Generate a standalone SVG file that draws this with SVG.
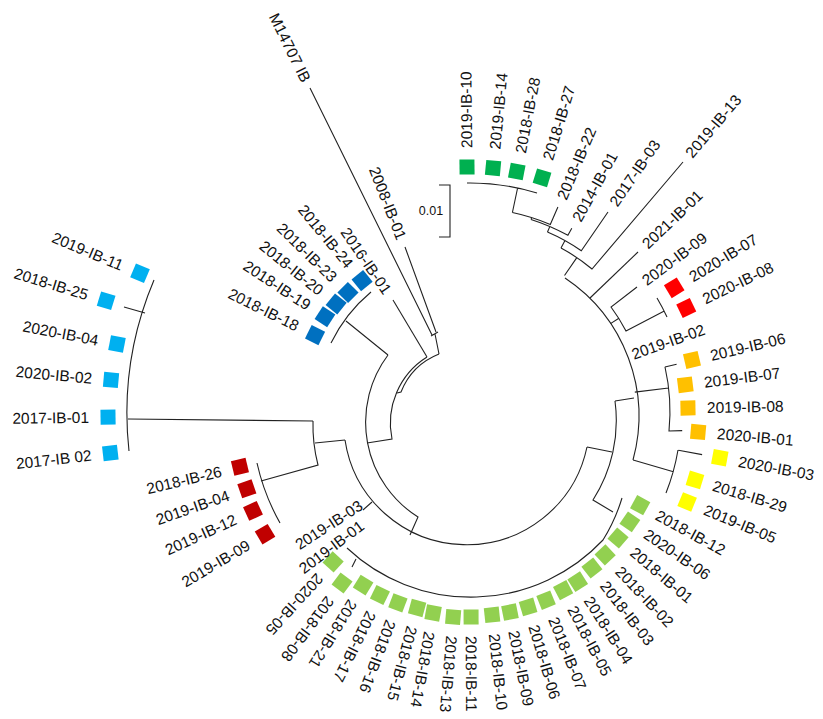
<svg xmlns="http://www.w3.org/2000/svg" width="823" height="719" viewBox="0 0 823 719">
<style>
text{font-family:"Liberation Sans",Arial,sans-serif;font-size:15.5px;fill:#111}
.f{text-anchor:end}
.c1{fill:#00b050}.c2{fill:#ff0000}.c3{fill:#ffc000}.c4{fill:#ffff00}.c5{fill:#92d050}.c6{fill:#c00000}.c7{fill:#00b0f0}.c8{fill:#0070c0}
#connectors path{fill:none;stroke:#222;stroke-width:1.1}
</style>
<rect width="823" height="719" fill="#fff"/>
<g id="connectors">
<path d="M310,88 L432,335 M405,247 L436,332 M431,336 L438,332 M435,334 L439,354"/>
<path d="M439,354 A68,68 0 0 0 401,392 L397,393"/>
<path d="M427,357 A78,78 0 0 0 392,439 L367,443"/>
<path d="M393,300 L427,357"/>
<path d="M388,355 A112,112 0 0 0 418,517 L410,535"/>
<path d="M388,355 L346,321 M371,292 A155,155 0 0 0 331,343"/>
<path d="M345,440 L315,443 M313,421 A158,158 0 0 0 318,465 L261,481"/>
<path d="M257,463 A220,220 0 0 0 280,523"/>
<path d="M313,421 L128,419 M154,280 A343,343 0 0 0 129,451 M145,313 L124,307"/>
<path d="M587,447 A123,123 0 0 1 345,440 M372,502 L363,510"/>
<path d="M587,447 L612,452 M615,401 A147,147 0 0 1 593,500 L613,512 M615,401 L634,398"/>
<path d="M622,498 A175,175 0 0 1 603,540 A181,181 0 0 1 347,548 M356,559 L352,567"/>
<path d="M565,278 A166,166 0 0 1 633,460"/>
<path d="M564.5,275.5 L577,257.4 M561,248 A188,188 0 0 1 592,269 L683,162"/>
<path d="M565,240.6 L561,248 M547.5,232 A196,196 0 0 1 581.3,250.7 L608,212"/>
<path d="M549.9,226.4 L547.5,232 M531,219.4 A202,202 0 0 1 567.9,235.3 L571.8,228.3"/>
<path d="M531.7,217.6 L531,219.4 M512.4,212.5 A204,204 0 0 1 550.3,224.5 L557.9,207"/>
<path d="M512.4,212.5 L517.6,188 M467,183 A229,229 0 0 1 537,193"/>
<path d="M590,298 L638,252"/>
<path d="M610.5,323.6 L618.9,318.2 M637,287 L611,307 A176,176 0 0 1 626,331 L664.3,310.9 M657,298 A219,219 0 0 1 667,317"/>
<path d="M634.8,392.1 L668.6,388 M665,367 A200,200 0 0 1 669,431 L682.2,430.6 M664.9,367 L676.6,364.3"/>
<path d="M633.1,460 L673.4,471.8 M678,450 A212,212 0 0 1 666,493 M678.5,450.3 L702.1,454.6"/>
</g>
<g id="tips" transform="translate(470,412)">
<g id="t0" transform="rotate(-90.7)"><rect class="c1" x="237.5" y="-7.5" width="15" height="15"/><text x="264" dy="0.35em">2019-IB-10</text></g>
<g id="t1" transform="rotate(-84.6)"><rect class="c1" x="237.5" y="-7.5" width="15" height="15"/><text x="264" dy="0.35em">2019-IB-14</text></g>
<g id="t2" transform="rotate(-79)"><rect class="c1" x="237.5" y="-7.5" width="15" height="15"/><text x="264" dy="0.35em">2018-IB-28</text></g>
<g id="t3" transform="rotate(-72.9)"><rect class="c1" x="237.5" y="-7.5" width="15" height="15"/><text x="264" dy="0.35em">2018-IB-27</text></g>
<g id="t4" transform="rotate(-66.8)"><text x="232" dy="0.35em">2018-IB-22</text></g>
<g id="t5" transform="rotate(-61)"><text x="219" dy="0.35em">2014-IB-01</text></g>
<g id="t6" transform="rotate(-55.4)"><text x="252" dy="0.35em">2017-IB-03</text></g>
<g id="t7" transform="rotate(-49.6)"><text x="337" dy="0.35em">2019-IB-13</text></g>
<g id="t8" transform="rotate(-43.6)"><text x="241" dy="0.35em">2021-IB-01</text></g>
<g id="t9" transform="rotate(-36.8)"><text x="217" dy="0.35em">2020-IB-09</text></g>
<g id="t10" transform="rotate(-31.3)"><rect class="c2" x="231.5" y="-7.5" width="15" height="15"/><text x="258" dy="0.35em">2020-IB-07</text></g>
<g id="t11" transform="rotate(-25.7)"><rect class="c2" x="232.5" y="-7.5" width="15" height="15"/><text x="259" dy="0.35em">2020-IB-08</text></g>
<g id="t12" transform="rotate(-19.5)"><text x="172" dy="0.35em">2019-IB-02</text></g>
<g id="t13" transform="rotate(-13.2)"><rect class="c3" x="220.5" y="-7.5" width="15" height="15"/><text x="247" dy="0.35em">2019-IB-06</text></g>
<g id="t14" transform="rotate(-7.2)"><rect class="c3" x="209.5" y="-7.5" width="15" height="15"/><text x="236" dy="0.35em">2019-IB-07</text></g>
<g id="t15" transform="rotate(-1.05)"><rect class="c3" x="210.5" y="-7.5" width="15" height="15"/><text x="237" dy="0.35em">2019-IB-08</text></g>
<g id="t16" transform="rotate(5)"><rect class="c3" x="221.5" y="-7.5" width="15" height="15"/><text x="248" dy="0.35em">2020-IB-01</text></g>
<g id="t17" transform="rotate(10.4)"><rect class="c4" x="246.5" y="-7.5" width="15" height="15"/><text x="273" dy="0.35em">2020-IB-03</text></g>
<g id="t18" transform="rotate(16.8)"><rect class="c4" x="227.5" y="-7.5" width="15" height="15"/><text x="254" dy="0.35em">2018-IB-29</text></g>
<g id="t19" transform="rotate(22.5)"><rect class="c4" x="227.5" y="-7.5" width="15" height="15"/><text x="254" dy="0.35em">2019-IB-05</text></g>
<g id="t20" transform="rotate(28.7)"><rect class="c5" x="186.5" y="-7.5" width="15" height="15"/><text x="213" dy="0.35em">2018-IB-12</text></g>
<g id="t21" transform="rotate(34.5)"><rect class="c5" x="186.5" y="-7.5" width="15" height="15"/><text x="213" dy="0.35em">2020-IB-06</text></g>
<g id="t22" transform="rotate(40.4)"><rect class="c5" x="186.9" y="-7.5" width="15" height="15"/><text x="213.4" dy="0.35em">2018-IB-01</text></g>
<g id="t23" transform="rotate(46.6)"><rect class="c5" x="189.2" y="-7.5" width="15" height="15"/><text x="215.7" dy="0.35em">2018-IB-02</text></g>
<g id="t24" transform="rotate(52)"><rect class="c5" x="190.5" y="-7.5" width="15" height="15"/><text x="217" dy="0.35em">2018-IB-03</text></g>
<g id="t25" transform="rotate(57.6)"><rect class="c5" x="193.5" y="-7.5" width="15" height="15"/><text x="220" dy="0.35em">2018-IB-04</text></g>
<g id="t26" transform="rotate(62.4)"><rect class="c5" x="193.5" y="-7.5" width="15" height="15"/><text x="220" dy="0.35em">2018-IB-05</text></g>
<g id="t27" transform="rotate(68)"><rect class="c5" x="195.5" y="-7.5" width="15" height="15"/><text x="222" dy="0.35em">2018-IB-07</text></g>
<g id="t28" transform="rotate(73.4)"><rect class="c5" x="195.9" y="-7.5" width="15" height="15"/><text x="222.4" dy="0.35em">2018-IB-06</text></g>
<g id="t29" transform="rotate(78.7)"><rect class="c5" x="196.5" y="-7.5" width="15" height="15"/><text x="223" dy="0.35em">2018-IB-09</text></g>
<g id="t30" transform="rotate(83.8)"><rect class="c5" x="196.5" y="-7.5" width="15" height="15"/><text x="223" dy="0.35em">2018-IB-10</text></g>
<g id="t31" transform="rotate(89.7)"><rect class="c5" x="197.5" y="-7.5" width="15" height="15"/><text x="224" dy="0.35em">2018-IB-11</text></g>
<g id="t32" transform="rotate(94.7)"><rect class="c5" x="198.2" y="-7.5" width="15" height="15"/><text x="224.7" dy="0.35em">2018-IB-13</text></g>
<g id="t33" transform="rotate(100.4)"><rect class="c5" x="196.9" y="-7.5" width="15" height="15"/><text x="223.4" dy="0.35em">2018-IB-14</text></g>
<g id="t34" transform="rotate(105.1)"><rect class="c5" x="195.5" y="-7.5" width="15" height="15"/><text x="222" dy="0.35em">2018-IB-15</text></g>
<g id="t35" transform="rotate(110.7)"><rect class="c5" x="196.5" y="-7.5" width="15" height="15"/><text x="223" dy="0.35em">2018-IB-16</text></g>
<g id="t36" transform="rotate(116.2)"><rect class="c5" x="196.5" y="-7.5" width="15" height="15"/><text x="223" dy="0.35em">2018-IB-17</text></g>
<g id="t37" transform="rotate(121.7)"><rect class="c5" x="195.9" y="-7.5" width="15" height="15"/><text x="222.4" dy="0.35em">2018-IB-21</text></g>
<g id="t38" transform="rotate(126.8)"><rect class="c5" x="206.1" y="-7.5" width="15" height="15"/><text x="232.6" dy="0.35em">2018-IB-08</text></g>
<g id="t39" transform="rotate(132.4)"><rect class="c5" x="195.5" y="-7.5" width="15" height="15"/><text x="222" dy="0.35em">2020-IB-05</text></g>
<g id="t40"><text class="f" transform="translate(-108,112) rotate(-37)" dy="0.35em">2019-IB-01</text></g>
<g id="t41"><text class="f" transform="translate(-109,92) rotate(-33)" dy="0.35em">2019-IB-03</text></g>
<g id="t42" transform="rotate(149.2)"><rect class="c6" x="231.1" y="-7.5" width="15" height="15"/><text class="f" transform="translate(257.6,0) rotate(180)" dy="0.35em">2019-IB-09</text></g>
<g id="t43" transform="rotate(155.5)"><rect class="c6" x="231" y="-7.5" width="15" height="15"/><text class="f" transform="translate(257.5,0) rotate(180)" dy="0.35em">2019-IB-12</text></g>
<g id="t44" transform="rotate(161)"><rect class="c6" x="228.5" y="-7.5" width="15" height="15"/><text class="f" transform="translate(255,0) rotate(180)" dy="0.35em">2019-IB-04</text></g>
<g id="t45" transform="rotate(166.6)"><rect class="c6" x="229" y="-7.5" width="15" height="15"/><text class="f" transform="translate(255.5,0) rotate(180)" dy="0.35em">2018-IB-26</text></g>
<g id="t46" transform="rotate(173.5)"><rect class="c7" x="354.5" y="-7.5" width="15" height="15"/><text class="f" transform="translate(381,0) rotate(180)" dy="0.35em">2017-IB 02</text></g>
<g id="t47" transform="rotate(179.2)"><rect class="c7" x="354.5" y="-7.5" width="15" height="15"/><text class="f" transform="translate(381,0) rotate(180)" dy="0.35em">2017-IB-01</text></g>
<g id="t48" transform="rotate(-174.9)"><rect class="c7" x="352.9" y="-7.5" width="15" height="15"/><text class="f" transform="translate(379.4,0) rotate(180)" dy="0.35em">2020-IB-02</text></g>
<g id="t49" transform="rotate(-169.1)"><rect class="c7" x="352" y="-7.5" width="15" height="15"/><text class="f" transform="translate(378.5,0) rotate(180)" dy="0.35em">2020-IB-04</text></g>
<g id="t50" transform="rotate(-163)"><rect class="c7" x="373" y="-7.5" width="15" height="15"/><text class="f" transform="translate(399.5,0) rotate(180)" dy="0.35em">2018-IB-25</text></g>
<g id="t51" transform="rotate(-157.2)"><rect class="c7" x="350.5" y="-7.5" width="15" height="15"/><text class="f" transform="translate(377,0) rotate(180)" dy="0.35em">2019-IB-11</text></g>
<g id="t52" transform="rotate(-153.6)"><rect class="c8" x="165.5" y="-7.5" width="15" height="15"/><text class="f" transform="translate(192,0) rotate(180)" dy="0.35em">2018-IB-18</text></g>
<g id="t53" transform="rotate(-146.7)"><rect class="c8" x="166" y="-7.5" width="15" height="15"/><text class="f" transform="translate(192.5,0) rotate(180)" dy="0.35em">2018-IB-19</text></g>
<g id="t54" transform="rotate(-141.1)"><rect class="c8" x="164.5" y="-7.5" width="15" height="15"/><text class="f" transform="translate(191,0) rotate(180)" dy="0.35em">2018-IB-20</text></g>
<g id="t55" transform="rotate(-135.6)"><rect class="c8" x="163.3" y="-7.5" width="15" height="15"/><text class="f" transform="translate(189.8,0) rotate(180)" dy="0.35em">2018-IB-23</text></g>
<g id="t56" transform="rotate(-129.4)"><rect class="c8" x="162.5" y="-7.5" width="15" height="15"/><text class="f" transform="translate(189,0) rotate(180)" dy="0.35em">2018-IB-24</text></g>
<g id="t57" transform="rotate(-124.5)"><text class="f" transform="translate(145,0) rotate(180)" dy="0.35em">2016-IB-01</text></g>
<g id="t58" transform="rotate(-111.5)"><text class="f" transform="translate(186,0) rotate(180)" dy="0.35em">2008-IB-01</text></g>
<g id="t59" transform="rotate(-116.3)"><text class="f" transform="translate(369,0) rotate(180)" dy="0.35em">M14707 IB</text></g>
</g>
<g id="scale-bar">
<path d="M439,185 H450 V237 H439" fill="none" stroke="#222" stroke-width="1.1"/>
<text x="431" y="215" text-anchor="middle" style="font-size:12.5px">0.01</text>
</g>
</svg>
